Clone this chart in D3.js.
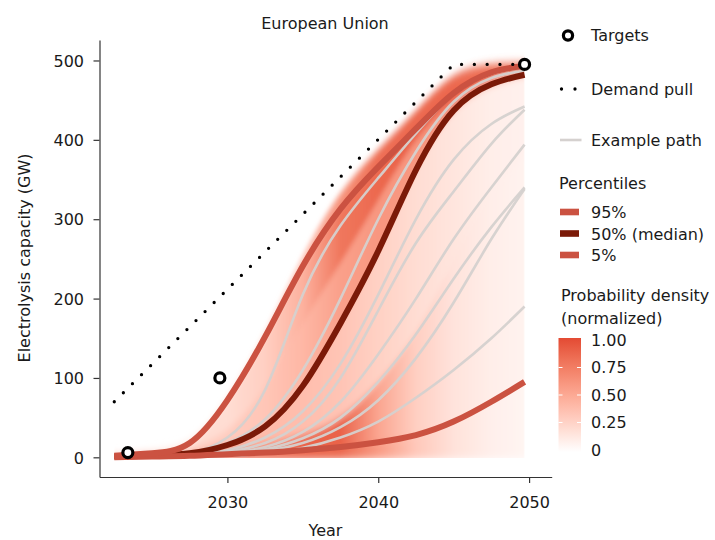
<!DOCTYPE html>
<html>
<head>
<meta charset="utf-8">
<script src="https://cdn.jsdelivr.net/npm/d3@7"></script>
<style>
  body { margin: 0; background: #fff; }
  text { font-family: "DejaVu Sans", sans-serif; fill: #1a1a1a; }
</style>
</head>
<body>
<svg id="chart" width="715" height="540"></svg>
<script>
// ---- data (GW of electrolysis capacity) ----
const years = [2022.5, 2025, 2027.5, 2030, 2032.5, 2035, 2037.5, 2040, 2042.5, 2045, 2047.5, 2049.7];

const p95 = [2, 5, 18, 72, 152, 241, 313, 366, 414, 459, 485, 493];
const p50 = [1, 2, 5, 15.5, 39, 90, 169, 260, 362, 437, 470, 482];
const p5  = [0, 1, 2, 4, 6, 9, 13, 19, 28, 45, 70, 95];

const examplePaths = [
  [0, 1, 5, 25, 85, 205, 292, 352, 408, 457, 483, 491],
  [0, 1, 4, 18, 48, 110, 200, 300, 385, 448, 478, 487],
  [0, 1, 3, 9, 25, 58, 118, 205, 300, 375, 420, 442],
  [0, 1, 2, 7, 18, 45, 100, 185, 270, 335, 395, 438],
  [0, 0, 1, 5, 13, 32, 70, 130, 200, 275, 340, 394],
  [0, 0, 1, 4, 10, 24, 50, 95, 155, 225, 290, 340],
  [0, 0, 1, 3, 8, 18, 38, 72, 125, 195, 275, 338],
  [0, 0, 1, 2, 5, 12, 25, 45, 75, 110, 150, 190]
];

const demandYears  = [2022.5, 2045, 2049.7];
const demandValues = [70, 495, 495];

const targetYears  = [2023.4, 2029.5, 2049.7];
const targetValues = [6, 100, 495];

// density field: quantile band edges and normalized density inside each band
const densityQ25   = [0.5, 1.5, 3, 8, 16, 28, 50, 95, 160, 250, 330, 380];
const densityQ75   = [1.5, 3, 10, 35, 90, 170, 246, 325, 400, 450, 478, 487];
const densityUpper = [3, 8, 22, 78, 160, 254, 332, 387, 436, 480, 495, 497];

const shadeBelowP5   = [0.9, 0.9, 0.9, 0.9, 0.88, 0.88, 0.85, 0.58, 0.32, 0.17, 0.09, 0.06];
const shadeP5toQ25   = [0.9, 0.9, 0.85, 0.78, 0.75, 0.88, 0.88, 0.52, 0.28, 0.16, 0.1, 0.07];
const shadeQ25toP50  = [0.6, 0.55, 0.5, 0.45, 0.4, 0.38, 0.34, 0.27, 0.2, 0.15, 0.1, 0.08];
const shadeP50toQ75  = [0.4, 0.35, 0.35, 0.3, 0.33, 0.42, 0.55, 0.6, 0.6, 0.65, 0.6, 0.5];
const shadeQ75toP95  = [0.3, 0.25, 0.2, 0.2, 0.28, 0.45, 0.78, 0.85, 0.9, 0.95, 0.9, 0.85];
const shadeAboveP95  = [0.1, 0.1, 0.1, 0.1, 0.15, 0.3, 0.62, 0.82, 0.85, 0.85, 0.8, 0.7];

const xTicks = [2030, 2040, 2050];
const yTicks = [0, 100, 200, 300, 400, 500];
const densityTicks = [0, 0.25, 0.5, 0.75, 1];
const densityTickLabels = ["0", "0.25", "0.50", "0.75", "1.00"];

// ---- styling ----
const colP95 = "#cb5241", colP50 = "#7b1a08", colP5 = "#cb5241";
const colPath = "#d5d1cf";
const densityColor = d3.scaleLinear().domain([0, 1])
  .range(["#ffffff", "#e34a33"]).interpolate(d3.interpolateLab);

const svg = d3.select("#chart");
const x = d3.scaleLinear().domain([2021.52, 2051.5]).range([99.5, 551.7]);
const y = d3.scaleLinear().domain([-24.8, 525.8]).range([477, 40]);
const idx = d3.range(years.length);
const smooth = d3.curveNatural;

const lineOf = vals => d3.line()
  .x(i => x(years[i])).y(i => y(vals[i]))
  .curve(smooth)(idx);

const defs = svg.append("defs");

// ---- density bands ----
const zeros = years.map(() => -2);
const bands = [
  [zeros, p5, shadeBelowP5],
  [p5, densityQ25, shadeP5toQ25],
  [densityQ25, p50, shadeQ25toP50],
  [p50, densityQ75, shadeP50toQ75],
  [densityQ75, p95, shadeQ75toP95],
  [p95, densityUpper, shadeAboveP95]
];

const x0 = x(years[0]), x1 = x(years[years.length - 1]);
defs.append("filter").attr("id", "soft")
  .attr("filterUnits", "userSpaceOnUse")
  .attr("x", x0 - 20).attr("y", 20).attr("width", x1 - x0 + 40).attr("height", 470)
  .append("feGaussianBlur").attr("stdDeviation", "1 4");
defs.append("clipPath").attr("id", "densClip")
  .append("rect").attr("x", x0).attr("y", 30)
  .attr("width", x1 - x0).attr("height", y(-1) - 30);

bands.forEach(([lo, hi, shade], b) => {
  const g = defs.append("linearGradient").attr("id", "band" + b)
    .attr("gradientUnits", "userSpaceOnUse")
    .attr("x1", x0).attr("x2", x1).attr("y1", 0).attr("y2", 0);
  years.forEach((yr, i) => {
    g.append("stop").attr("offset", (x(yr) - x0) / (x1 - x0))
      .attr("stop-color", densityColor(shade[i]));
  });
});

const densityLayer = svg.append("g").attr("clip-path", "url(#densClip)")
  .append("g").attr("filter", "url(#soft)");
bands.forEach(([lo, hi], b) => {
  densityLayer.append("path")
    .attr("d", d3.area()
      .x(i => x(years[i])).y0(i => y(lo[i])).y1(i => y(hi[i]))
      .curve(smooth)(idx))
    .attr("fill", `url(#band${b})`)
    .attr("stroke", `url(#band${b})`).attr("stroke-width", 1);
});

// ---- axes ----
const axisColor = "#333";
const yAxis = svg.append("g").attr("transform", "translate(99.5,0)")
  .call(d3.axisLeft(y).tickValues(yTicks).tickSize(6).tickSizeOuter(0).tickPadding(9.5));
const xAxis = svg.append("g").attr("transform", "translate(0,477)")
  .call(d3.axisBottom(x).tickValues(xTicks).tickFormat(d3.format("d"))
    .tickSize(6).tickSizeOuter(0).tickPadding(13.6));
[yAxis, xAxis].forEach(a => {
  a.select(".domain").attr("stroke", axisColor).attr("stroke-width", 1.2);
  a.selectAll(".tick line").attr("stroke", axisColor).attr("stroke-width", 1.2);
  a.selectAll(".tick text").attr("font-size", 16).attr("font-family", "DejaVu Sans").attr("fill", "#1a1a1a");
});
yAxis.selectAll(".tick text").attr("dy", "0.36em");

// ---- example paths ----
const pathLayer = svg.append("g");
examplePaths.forEach(vals => {
  pathLayer.append("path").attr("d", lineOf(vals))
    .attr("fill", "none").attr("stroke", colPath).attr("stroke-width", 2.6)
    .attr("stroke-opacity", 0.95);
});

// ---- percentiles ----
[[p50, colP50], [p5, colP5], [p95, colP95]].forEach(([vals, col]) => {
  svg.append("path").attr("d", lineOf(vals))
    .attr("fill", "none").attr("stroke", col).attr("stroke-width", 6);
});

// ---- demand pull ----
svg.append("path")
  .attr("d", d3.line().x((d, i) => x(demandYears[i])).y(d => y(d))(demandValues))
  .attr("fill", "none").attr("stroke", "#000").attr("stroke-width", 3.3)
  .attr("stroke-linecap", "round").attr("stroke-dasharray", "0 12.8");

// ---- targets ----
svg.append("g").selectAll("circle").data(targetValues).join("circle")
  .attr("cx", (d, i) => x(targetYears[i])).attr("cy", d => y(d))
  .attr("r", 5).attr("fill", "#fff").attr("stroke", "#000").attr("stroke-width", 3.2);

// ---- title and axis titles ----
svg.append("text").attr("x", 325).attr("y", 28.5).attr("text-anchor", "middle")
  .attr("font-size", 16).text("European Union");
svg.append("text").attr("x", 325.5).attr("y", 536).attr("text-anchor", "middle")
  .attr("font-size", 16).text("Year");
svg.append("text").attr("transform", "translate(30,258) rotate(-90)")
  .attr("text-anchor", "middle").attr("font-size", 16).text("Electrolysis capacity (GW)");

// ---- legend ----
const lg = svg.append("g");
const lx = 591;
lg.append("circle").attr("cx", 568).attr("cy", 35.5).attr("r", 4.6)
  .attr("fill", "#fff").attr("stroke", "#000").attr("stroke-width", 3.2);
lg.append("text").attr("x", lx).attr("y", 41).attr("font-size", 16).text("Targets");

lg.append("path").attr("d", "M561.5,89H576")
  .attr("stroke", "#000").attr("stroke-width", 3.3)
  .attr("stroke-linecap", "round").attr("stroke-dasharray", "0 13.5");
lg.append("text").attr("x", lx).attr("y", 95).attr("font-size", 16).text("Demand pull");

lg.append("path").attr("d", "M560,140H581.5")
  .attr("stroke", colPath).attr("stroke-width", 2.6);
lg.append("text").attr("x", lx).attr("y", 146).attr("font-size", 16).text("Example path");

lg.append("text").attr("x", 559).attr("y", 189).attr("font-size", 16).text("Percentiles");
const pctItems = [["95%", colP95, 212], ["50% (median)", colP50, 233.5], ["5%", colP5, 255]];
pctItems.forEach(([label, col, cy]) => {
  lg.append("rect").attr("x", 560).attr("y", cy - 3.3).attr("width", 19).attr("height", 6.6)
    .attr("fill", col);
  lg.append("text").attr("x", lx).attr("y", cy + 6).attr("font-size", 16).text(label);
});

lg.append("text").attr("x", 561).attr("y", 301).attr("font-size", 16).text("Probability density");
lg.append("text").attr("x", 561).attr("y", 323.5).attr("font-size", 16).text("(normalized)");

// colour bar
const cb = d3.scaleLinear().domain([0, 1]).range([450, 340]);
const cbGrad = defs.append("linearGradient").attr("id", "cbGrad")
  .attr("x1", 0).attr("x2", 0).attr("y1", 1).attr("y2", 0);
d3.range(0, 1.0001, 0.1).forEach(t => {
  cbGrad.append("stop").attr("offset", t).attr("stop-color", densityColor(t));
});
lg.append("rect").attr("x", 558.5).attr("y", cb(1) - 2).attr("width", 22.5)
  .attr("height", cb(0) - cb(1) + 4).attr("fill", "url(#cbGrad)");
densityTicks.forEach((t, i) => {
  if (t > 0 && t < 1) {
    lg.append("path").attr("d", `M558.5,${cb(t)}h4M577,${cb(t)}h4`)
      .attr("stroke", "#fff").attr("stroke-width", 1);
  }
  lg.append("text").attr("x", lx).attr("y", cb(t)).attr("dy", "0.36em")
    .attr("font-size", 16).text(densityTickLabels[i]);
});
</script>
</body>
</html>
